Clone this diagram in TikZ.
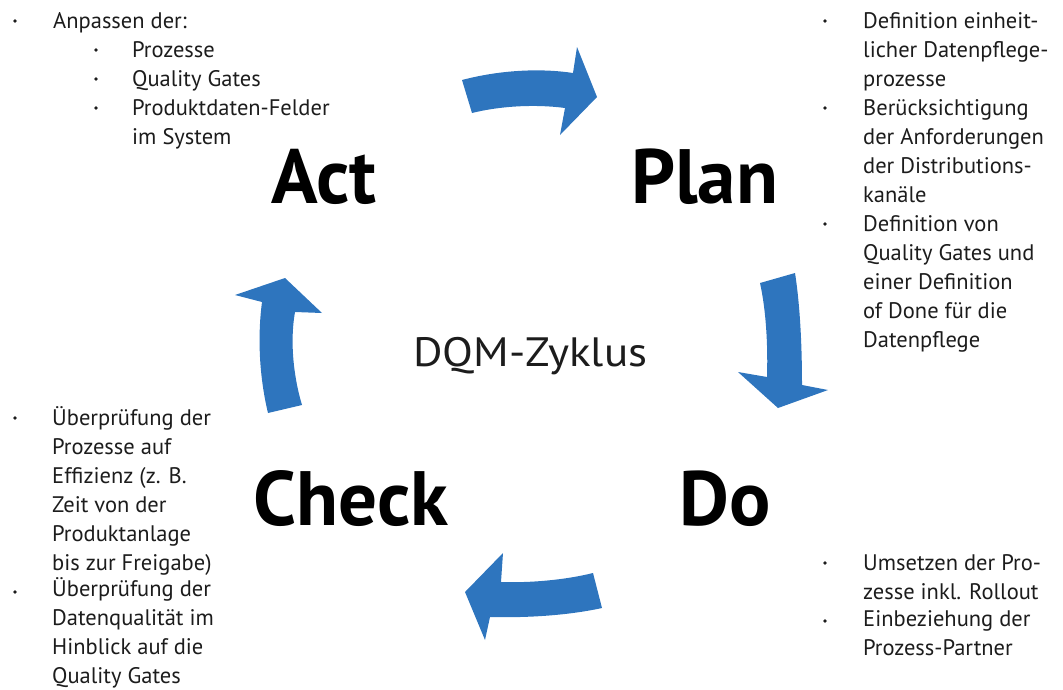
\documentclass[tikz,border=0pt]{standalone}
\usepackage{fontspec}
\setmainfont{PT Sans}
\definecolor{arrowblue}{RGB}{46,117,190}
\definecolor{txt}{RGB}{28,28,28}
\tikzset{
  x=1pt, y=-1pt,
  cyclearrow/.style={fill=arrowblue, draw=none},
  blt/.style={circle, fill=txt, inner sep=0pt, minimum size=3.8pt},
  itemtext/.style={anchor=base west, inner sep=0pt, align=left, text=txt,
    font=\fontsize{22.5}{29}\selectfont},
  phase/.style={anchor=base west, inner sep=0pt, text=black,
    font=\fontsize{77}{80}\selectfont\bfseries},
  center/.style={anchor=base west, inner sep=0pt, text=txt,
    font=\fontsize{41}{45}\selectfont}
}
\begin{document}
\begin{tikzpicture}
\useasboundingbox (0,0) rectangle (1063,689);
% arrows
\fill[cyclearrow] (462,80) .. controls (500,70) and (540,68) .. (573,73) -- (577,47) -- (597,97) -- (560,135) -- (565,108) .. controls (535,104) and (500,106) .. (472,113) -- cycle;
\fill[cyclearrow] (760,283) .. controls (766,310) and (768,345) .. (767,377) -- (738,372) -- (778,408) -- (828,390) -- (802,385) .. controls (802,345) and (800,305) .. (795,273) -- cycle;
\fill[cyclearrow] (593,573) .. controls (565,580) and (530,583) .. (501,582) -- (503,553) -- (465,592) -- (485,640) -- (490,617) .. controls (530,618) and (570,615) .. (602,608) -- cycle;
\fill[cyclearrow] (268,413) .. controls (260,380) and (257,340) .. (262,302) -- (235,295) -- (285,278) -- (322,313) -- (295,312) .. controls (290,340) and (293,375) .. (302,405) -- cycle;
% phase labels
\node[phase] (act) at (271,203) {Act};
\node[phase] (plan) at (631,203) {Plan};
\node[phase] (check) at (253,525) {Check};
\node[phase] (do) at (679,525) {Do};
\node[center] (dqm) at (413,366) {\scalebox{1.1}[1]{DQM-Zyklus}};
% top-left (anchor = baseline of last line)
\node[blt] (b1) at (15,21) {};
\node[itemtext] (t1) at (53,28) {Anpassen der:};
\node[blt] (b11) at (96,50) {};
\node[itemtext] (t11) at (132,57) {Prozesse};
\node[blt] (b12) at (96,79) {};
\node[itemtext] (t12) at (132,86) {Quality Gates};
\node[blt] (b13) at (96,108) {};
\node[itemtext] (t13) at (132,144) {Produktdaten-Felder\\im System};
% top-right
\node[blt] (b2) at (825,21) {};
\node[itemtext] (t2) at (863,86) {Definition einheit-\\licher Datenpflege-\\prozesse};
\node[blt] (b3) at (825,108) {};
\node[itemtext] (t3) at (863,202) {Berücksichtigung\\der Anforderungen\\der Distributions-\\kanäle};
\node[blt] (b4) at (825,224) {};
\node[itemtext] (t4) at (863,347) {Definition von\\Quality Gates und\\einer Definition\\of Done für die\\Datenpflege};
% bottom-left
\node[blt] (b5) at (15,418) {};
\node[itemtext] (t5) at (52,570) {Überprüfung der\\Prozesse auf\\Effizienz (z. B.\\Zeit von der\\Produktanlage\\bis zur Freigabe)};
\node[blt] (b6) at (15,592) {};
\node[itemtext] (t6) at (52,683) {Überprüfung der\\Datenqualität im\\Hinblick auf die\\Quality Gates};
% bottom-right
\node[blt] (b7) at (825,563) {};
\node[itemtext] (t7) at (863,599) {Umsetzen der Pro-\\zesse inkl. Rollout};
\node[blt] (b8) at (825,621) {};
\node[itemtext] (t8) at (863,655) {Einbeziehung der\\Prozess-Partner};
\end{tikzpicture}
\end{document}
